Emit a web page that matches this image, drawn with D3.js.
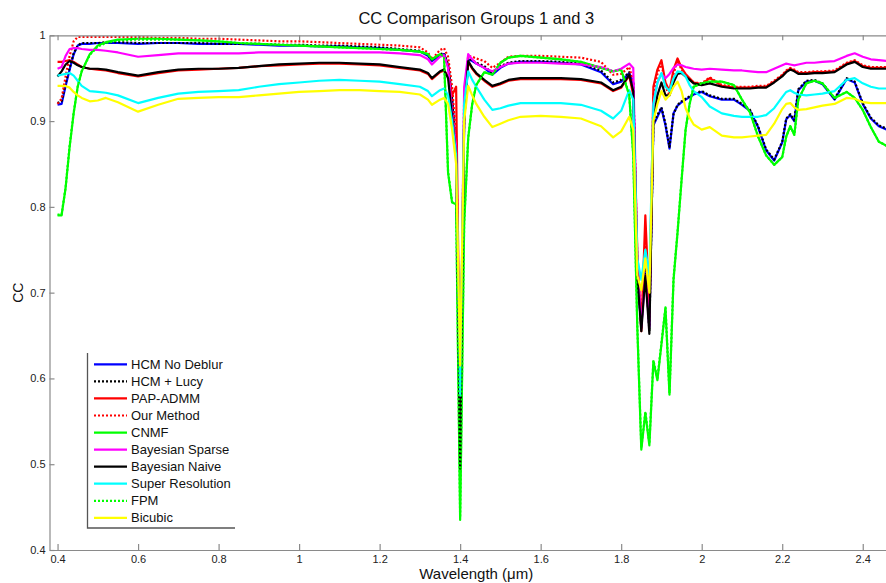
<!DOCTYPE html>
<html>
<head>
<meta charset="utf-8">
<script src="https://cdn.jsdelivr.net/npm/d3@7"></script>
<style>
  html, body { margin: 0; padding: 0; background: #fff; }
  svg { display: block; font-family: "Liberation Sans", Arial, Helvetica, sans-serif; }
</style>
</head>
<body>
<svg id="chart" width="886" height="583"></svg>
<script>
// Spectral band centres (µm)
const wavelengths = [
  0.40, 0.41, 0.42, 0.43, 0.44, 0.45, 0.46, 0.48, 0.50, 0.52,
  0.55, 0.60, 0.65, 0.70, 0.75, 0.80, 0.85, 0.90, 0.95, 1.00,
  1.05, 1.10, 1.15, 1.20, 1.25, 1.30, 1.32, 1.33, 1.35, 1.36,
  1.37, 1.38, 1.39, 1.40, 1.41, 1.42, 1.43, 1.44, 1.46, 1.48,
  1.50, 1.52, 1.55, 1.60, 1.65, 1.70, 1.75, 1.78, 1.80, 1.82,
  1.83, 1.84, 1.85, 1.86, 1.87, 1.88, 1.89, 1.90, 1.91, 1.92,
  1.93, 1.94, 1.95, 1.96, 1.97, 1.98, 2.00, 2.02, 2.05, 2.08,
  2.10, 2.12, 2.14, 2.16, 2.18, 2.20, 2.21, 2.22, 2.23, 2.24,
  2.26, 2.28, 2.30, 2.33, 2.36, 2.38, 2.40, 2.42, 2.44, 2.46, 2.48
];

// Correlation coefficient per band, one array per method
const hcmNoDeblur = [
  0.919, 0.920, 0.941, 0.960, 0.978, 0.988, 0.990, 0.990, 0.991, 0.991,
  0.991, 0.990, 0.991, 0.991, 0.990, 0.990, 0.990, 0.989, 0.988, 0.988,
  0.987, 0.987, 0.986, 0.985, 0.983, 0.981, 0.976, 0.970, 0.977, 0.978,
  0.965, 0.925, 0.860, 0.560, 0.900, 0.972, 0.970, 0.967, 0.962, 0.954,
  0.962, 0.967, 0.969, 0.969, 0.968, 0.966, 0.957, 0.943, 0.946, 0.956,
  0.945, 0.720, 0.660, 0.730, 0.660, 0.895, 0.905, 0.915, 0.895, 0.868,
  0.909, 0.918, 0.922, 0.925, 0.928, 0.931, 0.934, 0.929, 0.925, 0.925,
  0.919, 0.912, 0.893, 0.866, 0.854, 0.875, 0.902, 0.907, 0.900, 0.936,
  0.946, 0.947, 0.943, 0.925, 0.949, 0.945, 0.920, 0.903, 0.894, 0.890, 0.888
];
const hcmLucy = [
  0.921, 0.923, 0.944, 0.962, 0.979, 0.988, 0.991, 0.991, 0.991, 0.992,
  0.992, 0.991, 0.991, 0.991, 0.991, 0.990, 0.990, 0.990, 0.989, 0.989,
  0.988, 0.988, 0.987, 0.986, 0.984, 0.982, 0.977, 0.971, 0.978, 0.979,
  0.966, 0.927, 0.865, 0.565, 0.905, 0.973, 0.971, 0.968, 0.964, 0.956,
  0.964, 0.968, 0.970, 0.970, 0.969, 0.967, 0.959, 0.945, 0.948, 0.957,
  0.946, 0.725, 0.662, 0.735, 0.655, 0.897, 0.907, 0.916, 0.897, 0.870,
  0.908, 0.919, 0.923, 0.926, 0.929, 0.932, 0.935, 0.930, 0.926, 0.926,
  0.920, 0.913, 0.894, 0.867, 0.855, 0.876, 0.903, 0.908, 0.901, 0.937,
  0.947, 0.948, 0.944, 0.926, 0.950, 0.946, 0.921, 0.904, 0.895, 0.891, 0.889
];
const papAdmm = [
  0.969, 0.969, 0.970, 0.971, 0.969, 0.966, 0.963, 0.961, 0.960, 0.959,
  0.956, 0.952, 0.956, 0.959, 0.960, 0.961, 0.962, 0.964, 0.965, 0.966,
  0.967, 0.967, 0.966, 0.965, 0.962, 0.959, 0.955, 0.949, 0.957, 0.959,
  0.952, 0.930, 0.940, 0.570, 0.910, 0.969, 0.961, 0.955, 0.947, 0.940,
  0.943, 0.947, 0.949, 0.949, 0.949, 0.948, 0.944, 0.935, 0.939, 0.953,
  0.930, 0.750, 0.655, 0.790, 0.680, 0.940, 0.960, 0.971, 0.945, 0.935,
  0.960, 0.973, 0.962, 0.955, 0.950, 0.945, 0.943, 0.950, 0.941, 0.939,
  0.939, 0.939, 0.940, 0.940, 0.946, 0.953, 0.958, 0.961, 0.959, 0.956,
  0.956, 0.957, 0.957, 0.958, 0.967, 0.970, 0.964, 0.962, 0.962, 0.962, 0.962
];
const ourMethod = [
  0.920, 0.926, 0.952, 0.976, 0.993, 0.998, 0.998, 0.998, 0.998, 0.998,
  0.998, 0.998, 0.997, 0.997, 0.996, 0.996, 0.995, 0.994, 0.993, 0.993,
  0.992, 0.991, 0.990, 0.989, 0.988, 0.986, 0.980, 0.972, 0.983, 0.985,
  0.975, 0.940, 0.880, 0.560, 0.930, 0.976, 0.975, 0.973, 0.970, 0.962,
  0.968, 0.975, 0.976, 0.976, 0.975, 0.974, 0.969, 0.954, 0.955, 0.963,
  0.945, 0.740, 0.657, 0.760, 0.670, 0.930, 0.955, 0.968, 0.940, 0.930,
  0.955, 0.970, 0.960, 0.953, 0.949, 0.945, 0.944, 0.951, 0.942, 0.940,
  0.940, 0.940, 0.941, 0.941, 0.947, 0.954, 0.959, 0.962, 0.960, 0.957,
  0.957, 0.958, 0.958, 0.959, 0.968, 0.971, 0.965, 0.963, 0.963, 0.963, 0.963
];
const cnmf = [
  0.790, 0.790, 0.822, 0.870, 0.909, 0.940, 0.958, 0.978, 0.988, 0.992,
  0.995, 0.996, 0.996, 0.995, 0.994, 0.993, 0.991, 0.990, 0.989, 0.988,
  0.987, 0.986, 0.985, 0.984, 0.983, 0.981, 0.978, 0.972, 0.978, 0.975,
  0.840, 0.805, 0.803, 0.435, 0.780, 0.880, 0.920, 0.942, 0.957, 0.954,
  0.968, 0.974, 0.976, 0.974, 0.972, 0.969, 0.962, 0.958, 0.960, 0.930,
  0.860, 0.660, 0.517, 0.560, 0.522, 0.620, 0.598, 0.640, 0.682, 0.581,
  0.715, 0.770, 0.831, 0.890, 0.920, 0.940, 0.944, 0.946, 0.946, 0.942,
  0.925, 0.910, 0.882, 0.860, 0.849, 0.858, 0.882, 0.894, 0.884, 0.925,
  0.944, 0.947, 0.944, 0.927, 0.934, 0.927, 0.913, 0.893, 0.876, 0.871, 0.869
];
const bayesSparse = [
  0.961, 0.963, 0.976, 0.984, 0.985, 0.985, 0.984, 0.983, 0.983, 0.982,
  0.980, 0.975, 0.977, 0.979, 0.979, 0.979, 0.979, 0.980, 0.980, 0.980,
  0.980, 0.980, 0.980, 0.980, 0.979, 0.977, 0.972, 0.966, 0.975, 0.977,
  0.962, 0.910, 0.870, 0.560, 0.940, 0.978, 0.972, 0.967, 0.962, 0.958,
  0.963, 0.967, 0.968, 0.968, 0.967, 0.966, 0.963, 0.958, 0.961, 0.967,
  0.962, 0.740, 0.660, 0.720, 0.660, 0.920, 0.945, 0.955, 0.950, 0.955,
  0.962, 0.966, 0.965, 0.963, 0.962, 0.961, 0.960, 0.961, 0.960, 0.959,
  0.959, 0.958, 0.957, 0.957, 0.961, 0.965, 0.967, 0.966, 0.965, 0.966,
  0.968, 0.968, 0.969, 0.970, 0.976, 0.979, 0.975, 0.972, 0.971, 0.970, 0.970
];
const bayesNaive = [
  0.952, 0.958, 0.966, 0.970, 0.968, 0.965, 0.963, 0.961, 0.961, 0.960,
  0.957, 0.953, 0.957, 0.960, 0.961, 0.961, 0.962, 0.964, 0.966, 0.967,
  0.968, 0.968, 0.967, 0.966, 0.963, 0.960, 0.956, 0.950, 0.958, 0.960,
  0.950, 0.905, 0.860, 0.495, 0.900, 0.970, 0.962, 0.956, 0.948, 0.941,
  0.944, 0.948, 0.950, 0.950, 0.950, 0.949, 0.945, 0.936, 0.940, 0.954,
  0.935, 0.720, 0.655, 0.720, 0.652, 0.900, 0.930, 0.945, 0.930, 0.930,
  0.945, 0.955, 0.956, 0.952, 0.948, 0.944, 0.942, 0.944, 0.940, 0.938,
  0.938, 0.938, 0.939, 0.939, 0.945, 0.952, 0.957, 0.960, 0.958, 0.955,
  0.955, 0.956, 0.956, 0.957, 0.966, 0.969, 0.963, 0.961, 0.961, 0.961, 0.961
];
const superRes = [
  0.953, 0.954, 0.955, 0.956, 0.953, 0.947, 0.941, 0.935, 0.934, 0.933,
  0.930, 0.921, 0.927, 0.932, 0.934, 0.935, 0.936, 0.940, 0.943, 0.945,
  0.947, 0.948, 0.947, 0.946, 0.943, 0.940, 0.935, 0.929, 0.936, 0.938,
  0.930, 0.900, 0.860, 0.580, 0.920, 0.958, 0.948, 0.940, 0.925, 0.913,
  0.915, 0.918, 0.921, 0.921, 0.921, 0.919, 0.912, 0.903, 0.912, 0.936,
  0.925, 0.740, 0.715, 0.750, 0.720, 0.920, 0.945, 0.956, 0.940, 0.935,
  0.950, 0.958, 0.957, 0.952, 0.942, 0.935, 0.928, 0.917, 0.909, 0.906,
  0.905, 0.905, 0.905, 0.907, 0.915, 0.928, 0.934, 0.936, 0.933, 0.931,
  0.930, 0.931, 0.932, 0.935, 0.948, 0.950, 0.944, 0.940, 0.938, 0.938, 0.938
];
const fpm = [
  0.791, 0.791, 0.823, 0.871, 0.910, 0.940, 0.958, 0.977, 0.987, 0.991,
  0.994, 0.995, 0.995, 0.995, 0.994, 0.993, 0.991, 0.990, 0.989, 0.988,
  0.987, 0.986, 0.985, 0.984, 0.983, 0.981, 0.978, 0.972, 0.978, 0.975,
  0.841, 0.806, 0.804, 0.438, 0.782, 0.881, 0.920, 0.942, 0.957, 0.954,
  0.968, 0.974, 0.976, 0.974, 0.972, 0.969, 0.962, 0.958, 0.960, 0.931,
  0.861, 0.662, 0.519, 0.561, 0.524, 0.621, 0.600, 0.641, 0.683, 0.583,
  0.716, 0.771, 0.832, 0.890, 0.920, 0.940, 0.944, 0.946, 0.946, 0.942,
  0.925, 0.910, 0.882, 0.860, 0.849, 0.858, 0.882, 0.894, 0.884, 0.925,
  0.944, 0.947, 0.944, 0.927, 0.934, 0.927, 0.913, 0.893, 0.876, 0.871, 0.869
];
const bicubic = [
  0.941, 0.941, 0.941, 0.939, 0.934, 0.930, 0.927, 0.923, 0.924, 0.927,
  0.922, 0.911, 0.919, 0.926, 0.927, 0.928, 0.928, 0.930, 0.932, 0.934,
  0.935, 0.936, 0.936, 0.935, 0.934, 0.931, 0.925, 0.919, 0.925, 0.927,
  0.920, 0.890, 0.850, 0.615, 0.900, 0.941, 0.930, 0.920, 0.905, 0.893,
  0.897, 0.901, 0.905, 0.906, 0.905, 0.903, 0.894, 0.881, 0.888, 0.905,
  0.890, 0.720, 0.703, 0.740, 0.700, 0.900, 0.920, 0.935, 0.925, 0.930,
  0.940, 0.946, 0.935, 0.915, 0.904, 0.896, 0.890, 0.893, 0.883, 0.881,
  0.881, 0.882, 0.883, 0.884, 0.897, 0.914, 0.920, 0.921, 0.916, 0.913,
  0.914, 0.916, 0.918, 0.920, 0.927, 0.926, 0.922, 0.921, 0.921, 0.921, 0.921
];

const xTicks = [0.4, 0.6, 0.8, 1.0, 1.2, 1.4, 1.6, 1.8, 2.0, 2.2, 2.4];
const yTicks = [0.4, 0.5, 0.6, 0.7, 0.8, 0.9, 1.0];

const methods = [
  { name: "HCM No Deblur",    values: hcmNoDeblur, color: "#0000ff", dash: null },
  { name: "HCM + Lucy",       values: hcmLucy,     color: "#000000", dash: "2,2" },
  { name: "PAP-ADMM",         values: papAdmm,     color: "#ff0000", dash: null },
  { name: "Our Method",       values: ourMethod,   color: "#ff0000", dash: "2,2" },
  { name: "CNMF",             values: cnmf,        color: "#00ff00", dash: null },
  { name: "Bayesian Sparse",  values: bayesSparse, color: "#ff00ff", dash: null },
  { name: "Bayesian Naive",   values: bayesNaive,  color: "#000000", dash: null },
  { name: "Super Resolution", values: superRes,    color: "#00ffff", dash: null },
  { name: "FPM",              values: fpm,         color: "#00ff00", dash: "2,2" },
  { name: "Bicubic",          values: bicubic,     color: "#ffff00", dash: null }
];

(function draw() {
  const svg = d3.select("#chart");
  const pLeft = 49.5, pRight = 903, pTop = 35.3, pBottom = 550;

  const x = d3.scaleLinear().domain([0.38, 2.5]).range([pLeft, pRight]);
  const y = d3.scaleLinear().domain([0.4, 1.0]).range([pBottom, pTop]);

  svg.append("rect").attr("width", 886).attr("height", 583).attr("fill", "#fff");

  svg.append("defs").append("clipPath").attr("id", "plot-clip")
    .append("rect").attr("x", pLeft).attr("y", pTop - 2)
    .attr("width", pRight - pLeft).attr("height", pBottom - pTop + 2);

  // Curves
  const line = d3.line().x(d => x(d[0])).y(d => y(d[1]));
  const curves = svg.append("g").attr("clip-path", "url(#plot-clip)");
  methods.forEach(m => {
    curves.append("path")
      .datum(wavelengths.map((w, i) => [w, m.values[i]]))
      .attr("d", line)
      .attr("fill", "none")
      .attr("stroke", m.color)
      .attr("stroke-width", 2.2)
      .attr("stroke-linejoin", "round")
      .attr("stroke-dasharray", m.dash);
  });

  // Axes (inward ticks, boxed)
  const axisColor = "#8a8a8a";
  const fmtY = d => d === 1 ? "1" : d.toFixed(1);
  const fmtX = d => (d === 1 || d === 2) ? String(d) : d.toFixed(1);

  const gBottom = svg.append("g").attr("transform", `translate(0,${pBottom})`)
    .call(d3.axisBottom(x).tickValues(xTicks).tickFormat(fmtX).tickSizeInner(-6).tickSizeOuter(0).tickPadding(5));
  const gTop = svg.append("g").attr("transform", `translate(0,${pTop})`)
    .call(d3.axisTop(x).tickValues(xTicks).tickFormat("").tickSizeInner(-5).tickSizeOuter(0));
  const gLeft = svg.append("g").attr("transform", `translate(${pLeft},0)`)
    .call(d3.axisLeft(y).tickValues(yTicks).tickFormat(fmtY).tickSizeInner(-5).tickSizeOuter(0).tickPadding(4));

  [gBottom, gTop, gLeft].forEach(g => {
    g.select(".domain").attr("stroke", axisColor).attr("stroke-width", 1.2);
    g.selectAll(".tick line").attr("stroke", axisColor).attr("stroke-width", 1.2);
    g.selectAll(".tick text").attr("fill", "#222").style("font-size", "11px")
      .style("font-family", "'Liberation Sans', Arial, sans-serif");
  });

  // Titles
  svg.append("text").attr("x", (pLeft + pRight) / 2).attr("y", 24)
    .attr("text-anchor", "middle").attr("fill", "#111")
    .style("font-size", "16.5px").text("CC Comparison Groups 1 and 3");
  svg.append("text").attr("x", (pLeft + pRight) / 2).attr("y", 579)
    .attr("text-anchor", "middle").attr("fill", "#111")
    .style("font-size", "15px").text("Wavelength (μm)");
  svg.append("text")
    .attr("transform", `translate(23,${(pTop + pBottom) / 2}) rotate(-90)`)
    .attr("text-anchor", "middle").attr("fill", "#111")
    .style("font-size", "14px").text("CC");

  // Legend
  const lgX = 87.5, lgTop = 353, lgBottom = 528, lgRight = 235;
  const legend = svg.append("g");
  legend.append("rect").attr("x", lgX).attr("y", lgTop)
    .attr("width", lgRight - lgX).attr("height", lgBottom - lgTop).attr("fill", "#fff");
  legend.append("path")
    .attr("d", `M${lgX},${lgTop}V${lgBottom}H${lgRight}`)
    .attr("fill", "none").attr("stroke", "#555").attr("stroke-width", 1.3);
  methods.forEach((m, i) => {
    const ry = 364.3 + i * 17.06;
    legend.append("line")
      .attr("x1", 94).attr("x2", 127).attr("y1", ry).attr("y2", ry)
      .attr("stroke", m.color).attr("stroke-width", 2.2)
      .attr("stroke-dasharray", m.dash);
    legend.append("text").attr("x", 131).attr("y", ry + 4.5)
      .attr("fill", "#111").style("font-size", "13px").text(m.name);
  });
})();
</script>
</body>
</html>
